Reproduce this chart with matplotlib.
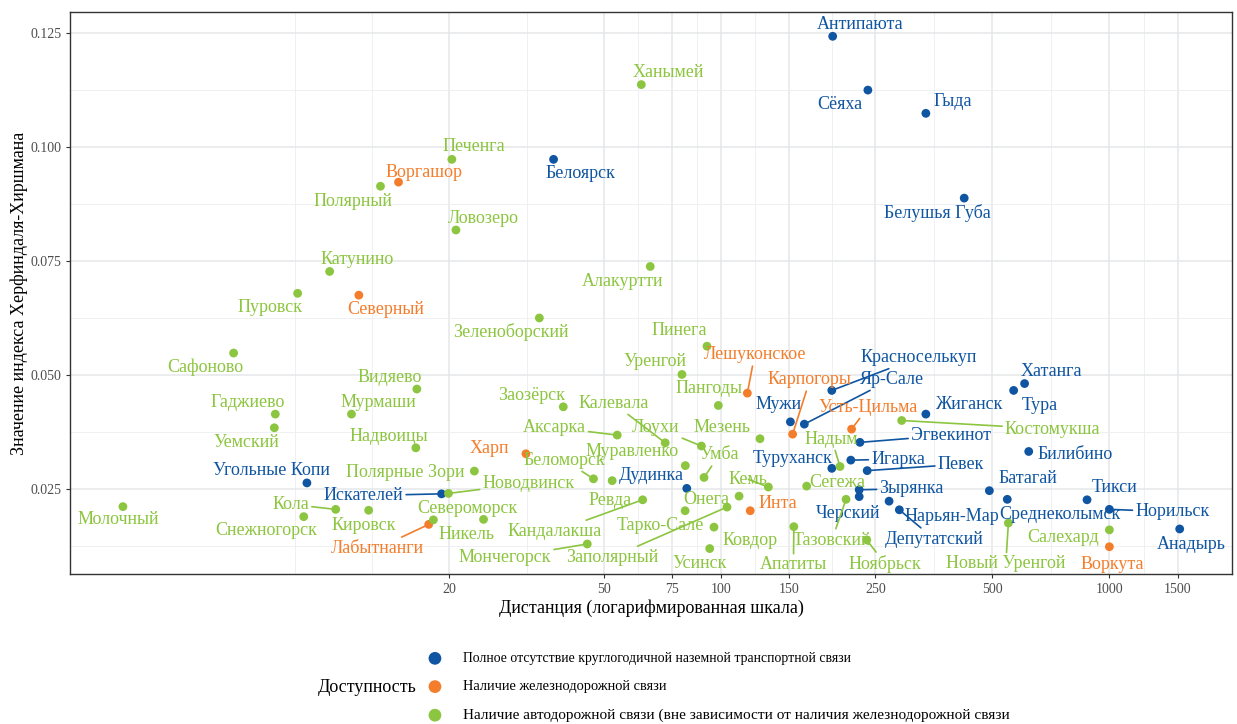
import matplotlib
matplotlib.use("Agg")
import matplotlib.pyplot as plt
from matplotlib.ticker import NullFormatter
import numpy as np

plt.rcParams['font.family'] = ['Liberation Serif', 'DejaVu Serif']

# ---------------------------------------------------------------------------
# Distance (km, log scale) and Herfindahl-Hirschman index, by accessibility
# ---------------------------------------------------------------------------
towns_none = ["Антипаюта", "Сёяха", "Гыда", "Белушья Губа", "Белоярск",
              "Угольные Копи", "Искателей", "Дудинка", "Мужи", "Красноселькуп",
              "Яр-Сале", "Туруханск", "Игарка", "Эгвекинот", "Певек", "Жиганск",
              "Хатанга", "Тура", "Билибино", "Батагай", "Зырянка", "Черский",
              "Нарьян-Мар", "Депутатский", "Среднеколымск", "Тикси", "Норильск",
              "Анадырь"]
dist_none = [194, 239, 337, 423, 37.1,
             8.6, 19.1, 81.7, 151, 193,
             164, 193, 216, 228, 238, 337,
             605, 567, 620, 491, 227, 227,
             271, 288, 546, 876, 1000,
             1517]
hhi_none = [0.1243, 0.1125, 0.1074, 0.0888, 0.0973,
            0.0263, 0.0239, 0.0251, 0.0397, 0.0466,
            0.0392, 0.0295, 0.0313, 0.0352, 0.0290, 0.0414,
            0.0481, 0.0466, 0.0332, 0.0246, 0.0248, 0.0233,
            0.0223, 0.0204, 0.0227, 0.0226, 0.0205,
            0.0162]

towns_rail = ["Воргашор", "Северный", "Лешуконское", "Карпогоры", "Усть-Цильма",
              "Харп", "Инта", "Лабытнанги", "Воркута"]
dist_rail = [14.8, 11.7, 117, 153, 217, 31.5, 119, 17.7, 1000]
hhi_rail = [0.0923, 0.0675, 0.0460, 0.0370, 0.0381, 0.0327, 0.0202, 0.0172, 0.0123]

towns_road = ["Ханымей", "Печенга", "Полярный", "Ловозеро", "Катунино", "Пуровск",
              "Алакуртти", "Зеленоборский", "Сафоново", "Гаджиево", "Уемский",
              "Видяево", "Мурмаши", "Надвоицы", "Полярные Зори", "Молочный", "Кола",
              "Кировск", "Снежногорск", "Североморск", "Никель", "Новодвинск",
              "Заозёрск", "Аксарка", "Калевала", "Лоухи", "Мезень", "Муравленко",
              "Умба", "Беломорск", "Ревда", "Кандалакша", "Мончегорск", "Заполярный",
              "Онега", "Тарко-Сале", "Ковдор", "Усинск", "Кемь", "Пинега", "Уренгой",
              "Пангоды", "Надым", "Сегежа", "Тазовский", "Апатиты", "Ноябрьск",
              "Костомукша", "Новый Уренгой", "Салехард"]
dist_road = [62.4, 20.3, 13.3, 20.8, 9.84, 8.14,
             65.8, 34.1, 5.57, 7.13, 7.09,
             16.5, 11.2, 16.4, 23.2, 2.89, 10.2,
             12.4, 8.44, 18.2, 24.5, 19.9,
             39.3, 54.1, 71.9, 89.1, 126.1, 81.0,
             90.5, 47.0, 52.5, 62.9, 45.3, 103.7,
             111.4, 80.9, 96.0, 93.6, 132.5, 92.1, 79.4,
             98.5, 202.6, 166.3, 210, 154.1, 237.4,
             292, 549.6, 1000]
hhi_road = [0.1137, 0.0973, 0.0914, 0.0818, 0.0727, 0.0679,
            0.0738, 0.0625, 0.0548, 0.0414, 0.0384,
            0.0469, 0.0414, 0.0340, 0.0289, 0.0211, 0.0205,
            0.0203, 0.0189, 0.0182, 0.0183, 0.0240,
            0.0430, 0.0368, 0.0351, 0.0344, 0.0360, 0.0301,
            0.0275, 0.0272, 0.0268, 0.0226, 0.0129, 0.0210,
            0.0234, 0.0202, 0.0166, 0.0119, 0.0254, 0.0563, 0.0501,
            0.0433, 0.0299, 0.0256, 0.0227, 0.0167, 0.0138,
            0.0400, 0.0175, 0.0160]

group_labels = [
    "Полное отсутствие круглогодичной наземной транспортной связи",
    "Наличие железнодорожной связи",
    "Наличие автодорожной связи (вне зависимости от наличия железнодорожной связи",
]
legend_title = "Доступность"
x_title = "Дистанция (логарифмированная шкала)"
y_title = "Значение индекса Херфиндаля-Хиршмана"

x_ticks = [20, 50, 75, 100, 150, 250, 500, 1000, 1500]
y_ticks = [0.025, 0.050, 0.075, 0.100, 0.125]

# ---------------------------------------------------------------------------
# Styling
# ---------------------------------------------------------------------------
COLORS = ["#0f55a1", "#f47d2b", "#8cc53f"]

# Label placement: offset of the label centre from its point in pixels
# (dx to the right, dy upwards) and whether a leader segment is drawn.
LABEL_OFFSETS = {
    "Полярный": (-27.6, -15.4, False), "Воргашор": (25.4, 10, False),
    "Катунино": (27, 12.4, False), "Пуровск": (-27.7, -14.4, False),
    "Северный": (27, -14.7, False), "Ханымей": (27, 12.3, False),
    "Печенга": (21.6, 12.7, False), "Белоярск": (27.3, -14.6, False),
    "Ловозеро": (27, 11.7, False), "Алакуртти": (-27.6, -15, False),
    "Антипаюта": (27.3, 11.7, False), "Сёяха": (-28, -14.7, False),
    "Гыда": (27.3, 12.3, False), "Белушья Губа": (-27, -15, False),
    "Сафоново": (-28, -14.7, False), "Гаджиево": (-27.6, 12, False),
    "Уемский": (-27.6, -14.6, False), "Мурмаши": (27, 12, False),
    "Видяево": (-27.5, 12, False), "Надвоицы": (-27.3, 11.3, False),
    "Угольные Копи": (-35, 12.3, False), "Полярные Зори": (-69, -1.3, False),
    "Искателей": (-78, -1.7, True), "Молочный": (-5, -13.3, False),
    "Кола": (-45, 5, True), "Кировск": (-4.7, -15, False),
    "Снежногорск": (-37.7, -14.3, False), "Лабытнанги": (-51, -24, True),
    "Зеленоборский": (-28.3, -14.3, False), "Пинега": (-27.7, 15.6, False),
    "Уренгой": (-27, 13, False), "Лешуконское": (7.3, 38.3, True),
    "Пангоды": (-9, 17, False), "Заозёрск": (-32, 11.7, False),
    "Калевала": (-52, 39.7, True), "Аксарка": (-63, 7.6, True),
    "Лоухи": (-45.7, 18.7, True), "Мезень": (-38.3, 11.7, False),
    "Муравленко": (-53, 14, False), "Умба": (15.3, 22.7, True),
    "Харп": (-36.7, 5.4, False), "Беломорск": (-29, 18.7, True),
    "Дудинка": (-36, 12.6, False), "Новодвинск": (80, 10, True),
    "Кемь": (-20, 7.7, True), "Ревда": (-2, -20.3, False),
    "Онега": (-33, -3, False), "Инта": (27.7, 7.4, False),
    "Североморск": (34.4, 11.7, False), "Никель": (-17.3, -15, False),
    "Кандалакша": (-87.7, -31.7, True), "Тарко-Сале": (-25, -15, False),
    "Ковдор": (36, -13, False), "Мончегорск": (-82.3, -13.7, True),
    "Заполярный": (-115.3, -50.4, True), "Усинск": (-9.7, -14.6, False),
    "Апатиты": (-0.4, -38.3, True), "Красноселькуп": (86.6, 33, True),
    "Яр-Сале": (87.7, 45, True), "Карпогоры": (17.3, 54.3, True),
    "Мужи": (-11.4, 17.7, False), "Усть-Цильма": (16.6, 22, True),
    "Жиганск": (43.3, 9.3, False), "Костомукша": (151, -8.6, True),
    "Эгвекинот": (91, 7.3, True), "Надым": (-8.3, 27.4, True),
    "Туруханск": (-38.7, 10, False), "Игарка": (47.3, 1, True),
    "Певек": (93.7, 6.4, True), "Сегежа": (30.6, 3.7, False),
    "Зырянка": (52.4, 1, True), "Черский": (-11, -16.6, False),
    "Нарьян-Мар": (62.4, -15, False), "Депутатский": (35, -29.3, True),
    "Тазовский": (-14.2, -40.7, True), "Ноябрьск": (18.3, -24, True),
    "Батагай": (38.4, 11.7, False), "Среднеколымск": (52.7, -15, False),
    "Новый Уренгой": (-2.6, -40.7, True), "Тикси": (28, 12, False),
    "Норильск": (63, -2.4, True), "Салехард": (-46, -7.7, False),
    "Воркута": (2.4, -17.3, False), "Анадырь": (12, -15.3, False),
    "Хатанга": (27, 12, False), "Тура": (26.3, -15, False),
    "Билибино": (46.3, -3.3, False),
}

W, H, DPI = 1237, 724, 100
fig = plt.figure(figsize=(W / DPI, H / DPI), dpi=DPI)
ax = fig.add_axes([70 / W, 1 - 574.3 / H, (1232.3 - 70) / W, (574.3 - 11.7) / H])

ax.set_xscale("log")

# grid: major at tick values, minor half-way between them (in log space)
ax.set_xticks(x_ticks)
ax.set_xticklabels([str(t) for t in x_ticks])
log_t = np.log10(x_ticks)
mids = list((log_t[:-1] + log_t[1:]) / 2)
step = (log_t[1] - log_t[0]) / 2
mids = [log_t[0] - 2 * step, log_t[0] - step] + mids
ax.set_xticks(10 ** np.array(mids), minor=True)
ax.xaxis.set_minor_formatter(NullFormatter())
ax.set_yticks(y_ticks)
ax.set_yticklabels([f"{t:.3f}" for t in y_ticks])
y_arr = np.array(y_ticks)
ax.set_yticks(np.concatenate([[y_arr[0] - 0.0125], (y_arr[:-1] + y_arr[1:]) / 2]),
              minor=True)
ax.yaxis.set_minor_formatter(NullFormatter())

ax.set_xlim(2.112, 2072)
ax.set_ylim(0.00625, 0.1297)

ax.grid(which="major", color="#e4e7ea", lw=1.1, zorder=0)
ax.grid(which="minor", color="#eceef0", lw=0.6, zorder=0)
ax.set_axisbelow(True)
ax.tick_params(which="minor", length=0)
ax.tick_params(which="major", length=3, width=0.8, color="#333333",
               labelsize=10, labelcolor="#4d4d4d", pad=3)
for s in ax.spines.values():
    s.set_color("#333333")
    s.set_linewidth(1.0)

ax.set_xlabel(x_title, fontsize=13, labelpad=3)
ax.set_ylabel(y_title, fontsize=13, labelpad=2)

groups = [(towns_none, dist_none, hhi_none),
          (towns_rail, dist_rail, hhi_rail),
          (towns_road, dist_road, hhi_road)]

handles = []
for (names, xs, ys), color, glabel in zip(groups, COLORS, group_labels):
    h = ax.scatter(xs, ys, s=40, color=color, edgecolors="none", zorder=3,
                   label=glabel)
    handles.append(h)
    for name, x, y in zip(names, xs, ys):
        dx, dy, seg = LABEL_OFFSETS[name]
        arrow = None
        if seg:
            arrow = dict(arrowstyle="-", color=color, lw=1.2,
                         shrinkA=0, shrinkB=3)
        ax.annotate(name, xy=(x, y), xytext=(dx, dy), textcoords="offset pixels",
                    ha="center", va="center", fontsize=13, color=color,
                    arrowprops=arrow, zorder=4, annotation_clip=False)

leg = fig.legend(handles=handles, labels=group_labels, loc="center left",
                 bbox_to_anchor=(428 / W, 1 - 687 / H), frameon=False,
                 fontsize=10, markerscale=1.45, handlelength=1.0,
                 handletextpad=1.5, labelspacing=1.1, borderpad=0,
                 borderaxespad=0)
# the entries in the source legend are set with different widths
for txt, size in zip(leg.get_texts(), [9.9, 10.4, 11.0]):
    txt.set_fontsize(size)
fig.text(318 / W, 1 - 688 / H, legend_title, fontsize=13, ha="left",
         va="center")

fig.savefig("out.png", dpi=DPI)
